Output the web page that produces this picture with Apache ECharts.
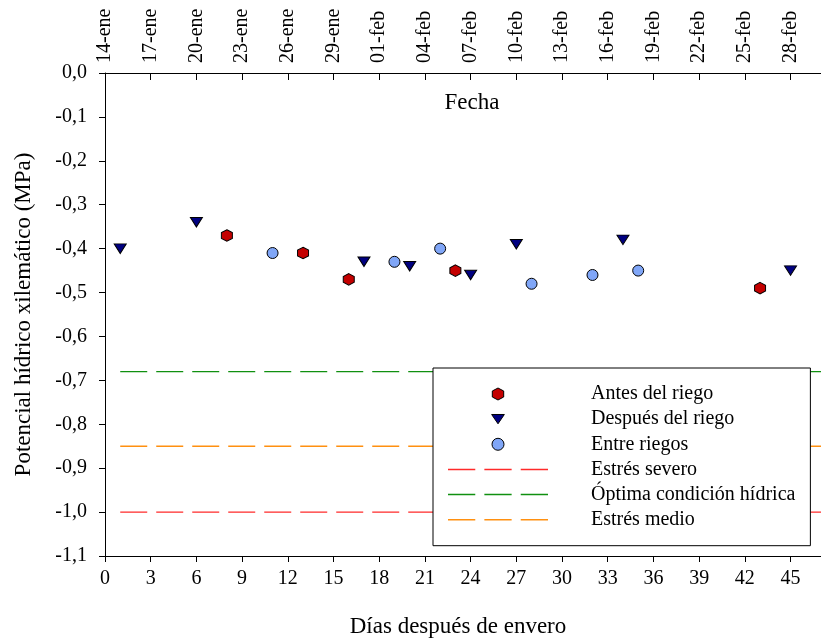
<!DOCTYPE html>
<html>
<head>
<meta charset="utf-8">
<script src="https://cdn.jsdelivr.net/npm/echarts@6/dist/echarts.min.js"></script>
<style>
  html, body { margin: 0; padding: 0; background: #ffffff; }
  #chart { width: 821px; height: 644px; }
</style>
</head>
<body>
<div id="chart"></div>
<script>
// Eje inferior: días después de envero; eje superior: fecha equivalente (día 0 = 14-ene)
const dayTicks = [0, 3, 6, 9, 12, 15, 18, 21, 24, 27, 30, 33, 36, 39, 42, 45];
const dateLabels = ['14-ene', '17-ene', '20-ene', '23-ene', '26-ene', '29-ene', '01-feb', '04-feb',
                    '07-feb', '10-feb', '13-feb', '16-feb', '19-feb', '22-feb', '25-feb', '28-feb'];

// Potencial hídrico xilemático (MPa) medido antes del riego
const antesDays = [8, 13, 16, 23, 43];
const antesValues = [-0.37, -0.41, -0.47, -0.45, -0.49];

// Medido después del riego
const despuesDays = [1, 6, 17, 20, 24, 27, 34, 45];
const despuesValues = [-0.40, -0.34, -0.43, -0.44, -0.46, -0.39, -0.38, -0.45];

// Medido entre riegos
const entreDays = [11, 19, 22, 28, 32, 35];
const entreValues = [-0.41, -0.43, -0.40, -0.48, -0.46, -0.45];

// Umbrales de referencia (MPa) y tramo de días que cubren
const severeLevel = -1.0;
const optimalLevel = -0.68;
const mediumLevel = -0.85;
const thresholdSpan = [1, 47];

const FONT = '"Liberation Serif", "Times New Roman", serif';
const HEXAGON = 'path://M0,-1L0.95,-0.5L0.95,0.5L0,1L-0.95,0.5L-0.95,-0.5Z';
const TRI_DOWN = 'path://M0,0L12.5,0L6.25,10Z';
const TRI_DOWN_LEGEND = 'path://M0,0L12.7,0L6.35,9.3Z M6.35,-1.35L6.35,-1.35 M6.35,10.65L6.35,10.65';
const DASHES = 'path://M0,0h27v1.4h-27z M36,0h27v1.4h-27z M72,0h27v1.4h-27z';

const zip = (xs, ys) => xs.map((x, i) => [x, ys[i]]);
const level = (v) => thresholdSpan.map((x) => [x, v]);
const fmtMPa = (v) => (Math.abs(v) < 1e-9 ? 0 : v).toFixed(1).replace('.', ',');

const chart = echarts.init(document.getElementById('chart'), null, { renderer: 'canvas' });

const tickFont = { fontFamily: FONT, fontSize: 20, color: '#000' };
const titleFont = { fontFamily: FONT, fontSize: 23, color: '#000' };
const axisBlack = { show: true, onZero: false, lineStyle: { color: '#000', width: 1 } };

function thresholdSeries(name, value, color) {
  return {
    name: name,
    type: 'line',
    data: level(value),
    symbol: 'none',
    silent: true,
    color: color,
    itemStyle: { color: color },
    lineStyle: { color: color, width: 1.4, type: [27, 9] },
    z: 1
  };
}

chart.setOption({
  animation: false,
  backgroundColor: '#ffffff',
  textStyle: { fontFamily: FONT },
  grid: { left: 105, top: 73, width: 720.67, height: 483 },
  xAxis: [
    {
      type: 'value',
      position: 'bottom',
      min: 0, max: 47, interval: 3,
      name: 'Días después de envero',
      nameLocation: 'middle',
      nameGap: 59,
      nameTextStyle: { ...titleFont, padding: [0, 10, 0, 0] },
      axisLine: axisBlack,
      axisTick: { show: true, inside: false, length: 6, customValues: dayTicks, lineStyle: { color: '#000' } },
      axisLabel: { ...tickFont, margin: 13, customValues: dayTicks },
      splitLine: { show: false }
    },
    {
      type: 'value',
      position: 'top',
      min: 0, max: 47, interval: 3,
      name: 'Fecha',
      nameLocation: 'middle',
      nameGap: -41,
      nameTextStyle: { ...titleFont, padding: [0, 0, 0, 18] },
      axisLine: axisBlack,
      axisTick: { show: true, inside: true, length: 7, customValues: dayTicks, lineStyle: { color: '#000' } },
      axisLabel: {
        ...tickFont,
        rotate: -90,
        margin: 10,
        padding: [8, 0, 0, 0],
        customValues: dayTicks,
        formatter: (v) => dateLabels[dayTicks.indexOf(v)]
      },
      splitLine: { show: false }
    }
  ],
  yAxis: {
    type: 'value',
    min: -1.1, max: 0, interval: 0.1,
    name: 'Potencial hídrico xilemático (MPa)',
    nameLocation: 'middle',
    nameRotate: 90,
    nameGap: 70,
    nameTextStyle: titleFont,
    axisLine: axisBlack,
    axisTick: { show: true, inside: false, length: 6, lineStyle: { color: '#000' } },
    axisLabel: { ...tickFont, margin: 18, formatter: fmtMPa },
    splitLine: { show: false }
  },
  legend: {
    orient: 'vertical',
    left: 433, top: 368,
    padding: [16, 15, 16, 15],
    itemWidth: 100, itemHeight: 12, itemGap: 5.14,
    symbolKeepAspect: true,
    backgroundColor: '#ffffff',
    borderColor: '#000', borderWidth: 1, borderRadius: 0,
    selectedMode: false,
    z: 10,
    textStyle: { fontFamily: FONT, fontSize: 20, lineHeight: 20, color: '#000', padding: [0, 0, 0, 38] },
    data: [
      { name: 'Antes del riego', icon: HEXAGON, itemStyle: { borderWidth: 1, borderColor: '#000' } },
      { name: 'Después del riego', icon: TRI_DOWN_LEGEND, itemStyle: { borderWidth: 1, borderColor: '#000' } },
      { name: 'Entre riegos', icon: 'circle', itemStyle: { borderWidth: 1, borderColor: '#000' } },
      { name: 'Estrés severo', icon: DASHES, itemStyle: { borderWidth: 0 } },
      { name: 'Óptima condición hídrica', icon: DASHES, itemStyle: { borderWidth: 0 } },
      { name: 'Estrés medio', icon: DASHES, itemStyle: { borderWidth: 0 } }
    ]
  },
  series: [
    {
      name: 'Antes del riego',
      type: 'scatter',
      data: zip(antesDays, antesValues),
      symbol: HEXAGON,
      symbolSize: [11, 11.5],
      itemStyle: { color: '#c40000', borderColor: '#000', borderWidth: 1, opacity: 1 },
      z: 5
    },
    {
      name: 'Después del riego',
      type: 'scatter',
      data: zip(despuesDays, despuesValues),
      symbol: TRI_DOWN,
      symbolSize: [12, 9.5],
      itemStyle: { color: '#000080', borderColor: '#000', borderWidth: 1, opacity: 1 },
      z: 5
    },
    {
      name: 'Entre riegos',
      type: 'scatter',
      data: zip(entreDays, entreValues),
      symbol: 'circle',
      symbolSize: 11,
      itemStyle: { color: '#80a6f7', borderColor: '#000', borderWidth: 1, opacity: 1 },
      z: 5
    },
    thresholdSeries('Estrés severo', severeLevel, '#ff2a2a'),
    thresholdSeries('Óptima condición hídrica', optimalLevel, '#109010'),
    thresholdSeries('Estrés medio', mediumLevel, '#ff9010')
  ]
});
</script>
</body>
</html>
